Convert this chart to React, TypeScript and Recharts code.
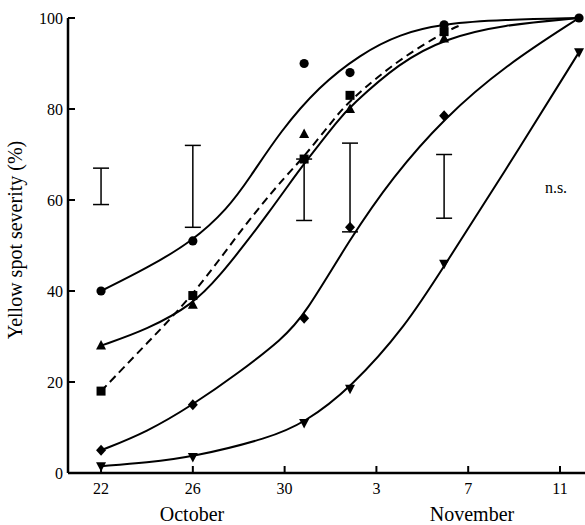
import React from 'react';
import {
  ComposedChart,
  Line,
  Scatter,
  ErrorBar,
  XAxis,
  YAxis,
} from 'recharts';

// days counted from 22 October
const dayTicks = [0, 4, 8, 12, 16, 20];
const dayTickLabels = ['22', '26', '30', '3', '7', '11'];
const valueTicks = [0, 20, 40, 60, 80, 100];

const sampleDays = [0, 4, 8.85, 10.85, 14.95, 20.83];
const circleObs = [40, 51, 90, 88, 98.5, 100];
const squareObs = [18, 39, 69, 83, 97];
const triangleObs = [28, 37, 74.5, 80, 95.5];
const diamondObs = [5, 15, 34, 54, 78.5];
const invTriangleObs = [1.5, 3.5, 11, 18.5, 46, 92.5];

const errDays = [0, 4, 8.85, 10.85, 14.95];
const errLow = [59, 54, 55.5, 53, 56];
const errHigh = [67, 72, 69, 72.5, 70];

// fitted curves, [day, %]
const circleCurve = [
  [0, 40], [2, 45], [4, 51], [5.5, 58], [6.5, 65], [7.8, 75], [9.5, 85],
  [11.3, 92], [13, 96.5], [15, 98.8], [17.5, 99.6], [20.83, 100],
];
const squareCurve = [
  [0, 18], [2, 28.5], [4, 39], [5.9, 52], [7, 59], [8, 65], [8.85, 69.5],
  [10.1, 77.5], [10.85, 82], [13, 91], [15, 97], [15.7, 98.5],
];
const triangleCurve = [
  [0, 28], [2, 31.5], [4, 37], [5.2, 43.5], [6.3, 50.5], [7.2, 56.5], [8.2, 63.5],
  [8.85, 68], [10.4, 78], [10.85, 80.5], [13, 90.2], [15, 95.5], [17.5, 98.5], [20.83, 100],
];
const diamondCurve = [
  [0, 5], [2, 9], [4, 15], [6, 22], [7.9, 29.5], [8.85, 34.5], [10.85, 51.5],
  [12.7, 65], [14.95, 78], [17.6, 89.5], [20.83, 100],
];
const invTriangleCurve = [
  [0, 1.5], [2, 2.3], [4, 3.5], [7.35, 7.7], [8.85, 11], [10.85, 18.5], [13.3, 32.4],
  [14.95, 45.5], [17.5, 65.5], [20.83, 92.5],
];

const toPoints = (pairs: number[][]) => pairs.map(([x, y]) => ({ x, y }));
const toObs = (vals: number[]) => vals.map((y, i) => ({ x: sampleDays[i], y }));
const errData = errDays.map((x, i) => {
  const mid = (errLow[i] + errHigh[i]) / 2;
  return { x, y: mid, err: [mid - errLow[i], errHigh[i] - mid] };
});

const makeShape = (kind: string) => (props: any) => {
  const { cx, cy } = props;
  if (cx == null || cy == null) return <g />;
  switch (kind) {
    case 'circle':
      return <circle cx={cx} cy={cy} r={4.6} fill="#000" />;
    case 'square':
      return <rect x={cx - 4.5} y={cy - 4.5} width={9} height={9} fill="#000" />;
    case 'triangle':
      return <polygon points={`${cx},${cy - 5.5} ${cx - 5},${cy + 4} ${cx + 5},${cy + 4}`} fill="#000" />;
    case 'diamond':
      return <polygon points={`${cx},${cy - 5.5} ${cx + 5},${cy} ${cx},${cy + 5.5} ${cx - 5},${cy}`} fill="#000" />;
    default:
      return <polygon points={`${cx - 5},${cy - 4} ${cx + 5},${cy - 4} ${cx},${cy + 5.5}`} fill="#000" />;
  }
};

const font = '"Liberation Serif", "Times New Roman", serif';
const tickStyle = { fontSize: 16, fill: '#000', fontFamily: font };

export default function App() {
  return (
    <div style={{ position: 'absolute', left: 0, top: 0, width: 585, height: 525, background: '#fff' }}>
      <ComposedChart width={585} height={525} margin={{ top: 18, right: 0, bottom: 0, left: 8 }}>
        <XAxis
          dataKey="x"
          type="number"
          domain={[-1.44, 21.09]}
          ticks={dayTicks}
          tickFormatter={(v: number) => dayTickLabels[dayTicks.indexOf(v)] ?? ''}
          tickSize={-7}
          tickMargin={17}
          height={52}
          axisLine={{ stroke: '#000', strokeWidth: 2.5 }}
          tickLine={{ stroke: '#000', strokeWidth: 2 }}
          tick={tickStyle}
        />
        <YAxis
          type="number"
          domain={[0, 100]}
          ticks={valueTicks}
          width={60}
          tickSize={-7}
          tickMargin={12}
          axisLine={{ stroke: '#000', strokeWidth: 2.5 }}
          tickLine={{ stroke: '#000', strokeWidth: 2 }}
          tick={tickStyle}
        />
        <Line data={toPoints(circleCurve)} dataKey="y" type="basis" stroke="#000" strokeWidth={2} dot={false} isAnimationActive={false} />
        <Line data={toPoints(triangleCurve)} dataKey="y" type="basis" stroke="#000" strokeWidth={2} dot={false} isAnimationActive={false} />
        <Line data={toPoints(squareCurve)} dataKey="y" type="basis" stroke="#000" strokeWidth={2} strokeDasharray="8 5" dot={false} isAnimationActive={false} />
        <Line data={toPoints(diamondCurve)} dataKey="y" type="basis" stroke="#000" strokeWidth={2} dot={false} isAnimationActive={false} />
        <Line data={toPoints(invTriangleCurve)} dataKey="y" type="basis" stroke="#000" strokeWidth={2} dot={false} isAnimationActive={false} />
        <Scatter data={errData} dataKey="y" shape={() => <g />} isAnimationActive={false}>
          <ErrorBar dataKey="err" direction="y" width={8} stroke="#000" strokeWidth={1.5} isAnimationActive={false} />
        </Scatter>
        <Scatter data={toObs(circleObs)} dataKey="y" shape={makeShape('circle')} isAnimationActive={false} />
        <Scatter data={toObs(squareObs)} dataKey="y" shape={makeShape('square')} isAnimationActive={false} />
        <Scatter data={toObs(triangleObs)} dataKey="y" shape={makeShape('triangle')} isAnimationActive={false} />
        <Scatter data={toObs(diamondObs)} dataKey="y" shape={makeShape('diamond')} isAnimationActive={false} />
        <Scatter data={toObs(invTriangleObs)} dataKey="y" shape={makeShape('inv')} isAnimationActive={false} />
      </ComposedChart>
      <svg width={585} height={525} style={{ position: 'absolute', left: 0, top: 0, pointerEvents: 'none' }}>
        <text x={22} y={240} transform="rotate(-90 22 240)" textAnchor="middle" fontFamily={font} fontSize={20} fill="#000">
          Yellow spot severity (%)
        </text>
        <text x={192} y={521} textAnchor="middle" fontFamily={font} fontSize={20} fill="#000">October</text>
        <text x={472} y={521} textAnchor="middle" fontFamily={font} fontSize={20} fill="#000">November</text>
        <text x={556} y={193} textAnchor="middle" fontFamily={font} fontSize={16} fill="#000">n.s.</text>
      </svg>
    </div>
  );
}
